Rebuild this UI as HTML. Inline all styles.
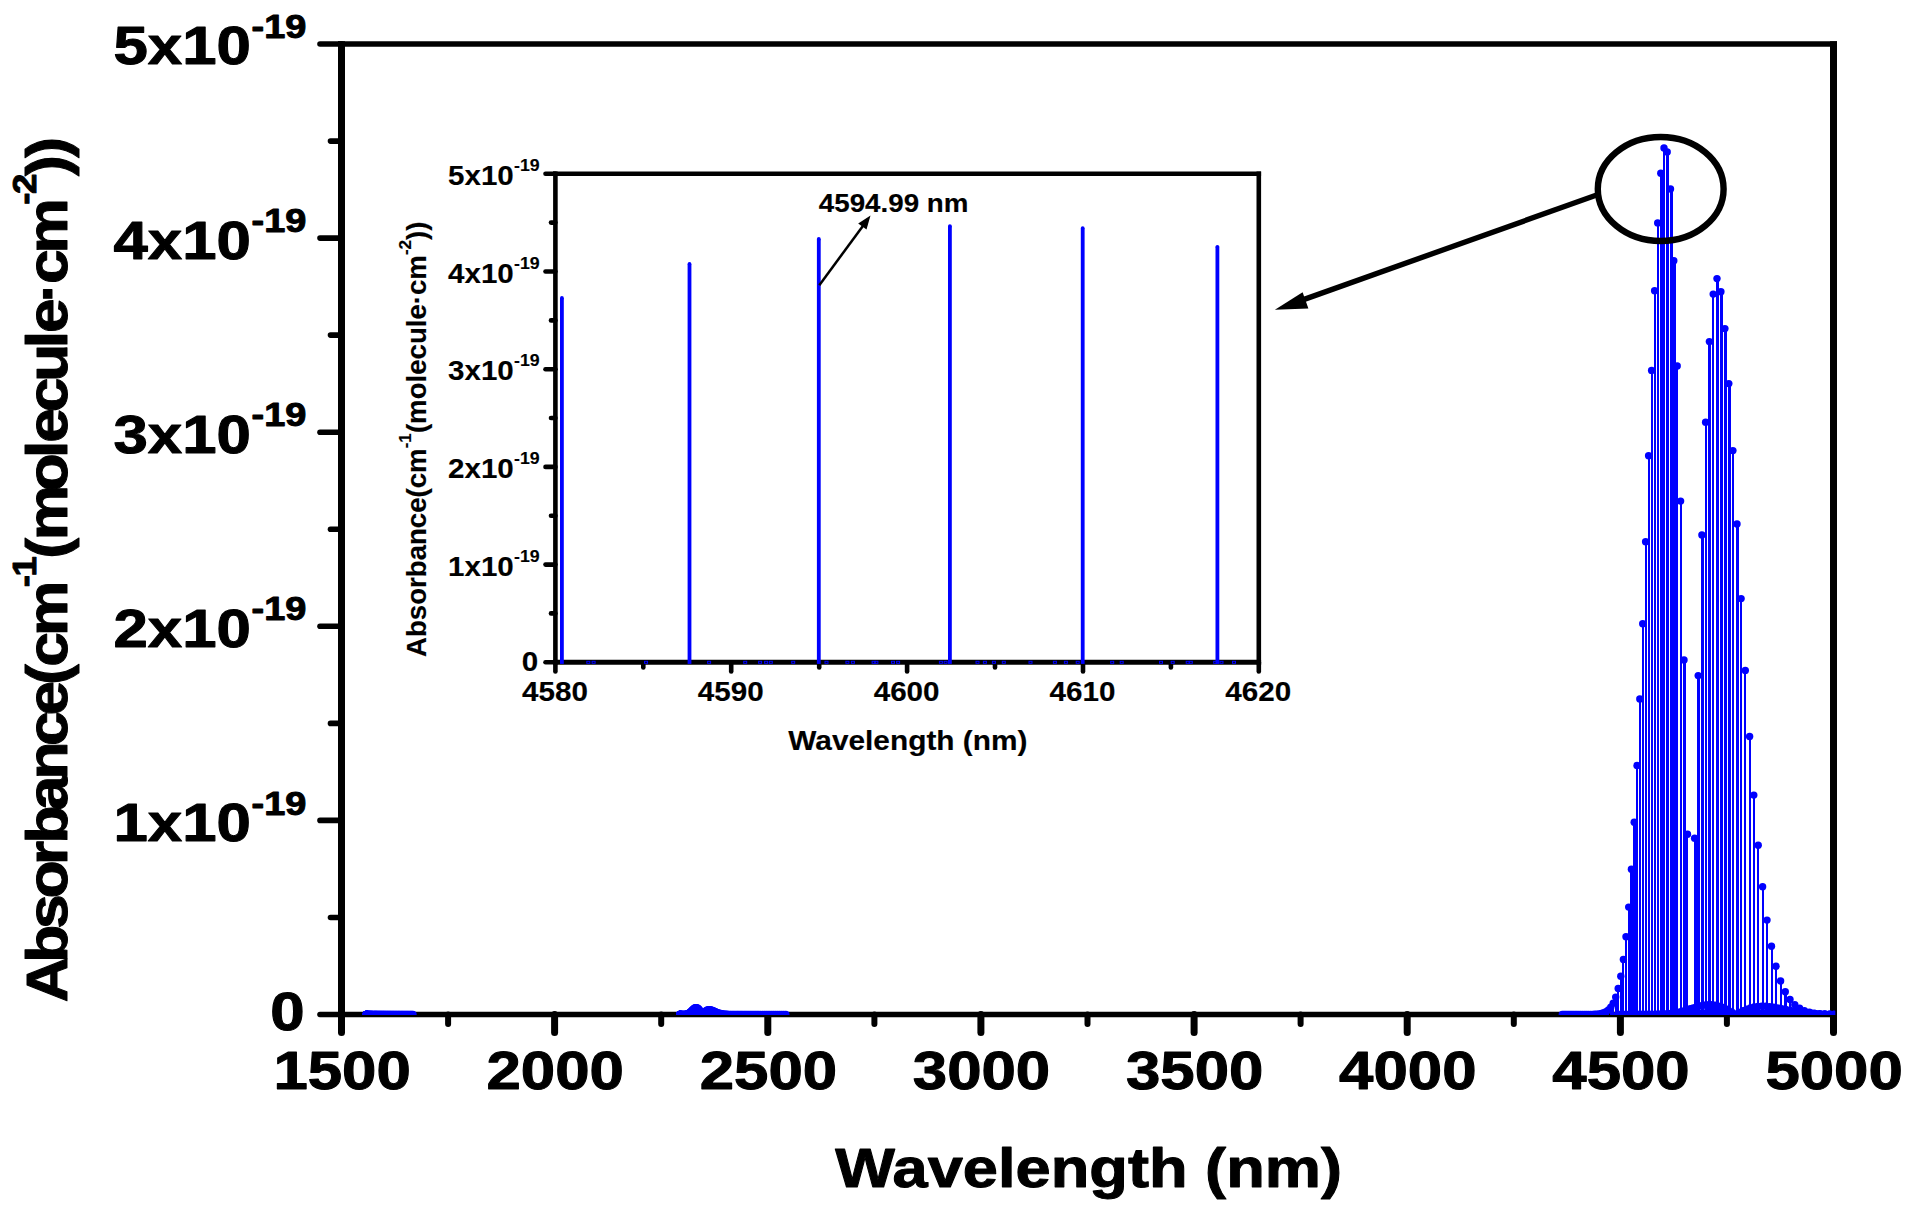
<!DOCTYPE html>
<html lang="en"><head><meta charset="utf-8"><title>CO absorbance spectrum</title>
<style>html,body{margin:0;padding:0;background:#fff}svg{display:block}text{font-family:"Liberation Sans", Arial, Helvetica, sans-serif;font-weight:bold;fill:#000}</style></head><body>
<svg width="1909" height="1210" viewBox="0 0 1909 1210">
<rect width="1909" height="1210" fill="#fff"/>
<g stroke="#000" fill="none" stroke-linecap="butt">
<line x1="341.5" y1="41.2" x2="341.5" y2="1017.3" stroke-width="7.0"/>
<line x1="1833.5" y1="41.2" x2="1833.5" y2="1017.3" stroke-width="7.0"/>
<line x1="338.0" y1="44.0" x2="1837.0" y2="44.0" stroke-width="5.6"/>
<line x1="338.0" y1="1014.5" x2="1837.0" y2="1014.5" stroke-width="5.6"/>
</g>
<g stroke="#000" fill="none" stroke-linecap="round">
<line x1="341.5" y1="1014.5" x2="320.0" y2="1014.5" stroke-width="5.6"/>
<line x1="341.5" y1="917.5" x2="330.5" y2="917.5" stroke-width="5.6"/>
<line x1="341.5" y1="820.4" x2="320.0" y2="820.4" stroke-width="5.6"/>
<line x1="341.5" y1="723.4" x2="330.5" y2="723.4" stroke-width="5.6"/>
<line x1="341.5" y1="626.3" x2="320.0" y2="626.3" stroke-width="5.6"/>
<line x1="341.5" y1="529.2" x2="330.5" y2="529.2" stroke-width="5.6"/>
<line x1="341.5" y1="432.2" x2="320.0" y2="432.2" stroke-width="5.6"/>
<line x1="341.5" y1="335.1" x2="330.5" y2="335.1" stroke-width="5.6"/>
<line x1="341.5" y1="238.1" x2="320.0" y2="238.1" stroke-width="5.6"/>
<line x1="341.5" y1="141.1" x2="330.5" y2="141.1" stroke-width="5.6"/>
<line x1="341.5" y1="44.0" x2="320.0" y2="44.0" stroke-width="5.6"/>
<line x1="341.5" y1="1014.5" x2="341.5" y2="1032.5" stroke-width="7.0"/>
<line x1="448.1" y1="1014.5" x2="448.1" y2="1024.0" stroke-width="6.0"/>
<line x1="554.6" y1="1014.5" x2="554.6" y2="1032.5" stroke-width="7.0"/>
<line x1="661.2" y1="1014.5" x2="661.2" y2="1024.0" stroke-width="6.0"/>
<line x1="767.8" y1="1014.5" x2="767.8" y2="1032.5" stroke-width="7.0"/>
<line x1="874.4" y1="1014.5" x2="874.4" y2="1024.0" stroke-width="6.0"/>
<line x1="980.9" y1="1014.5" x2="980.9" y2="1032.5" stroke-width="7.0"/>
<line x1="1087.5" y1="1014.5" x2="1087.5" y2="1024.0" stroke-width="6.0"/>
<line x1="1194.1" y1="1014.5" x2="1194.1" y2="1032.5" stroke-width="7.0"/>
<line x1="1300.6" y1="1014.5" x2="1300.6" y2="1024.0" stroke-width="6.0"/>
<line x1="1407.2" y1="1014.5" x2="1407.2" y2="1032.5" stroke-width="7.0"/>
<line x1="1513.8" y1="1014.5" x2="1513.8" y2="1024.0" stroke-width="6.0"/>
<line x1="1620.4" y1="1014.5" x2="1620.4" y2="1032.5" stroke-width="7.0"/>
<line x1="1726.9" y1="1014.5" x2="1726.9" y2="1024.0" stroke-width="6.0"/>
<line x1="1833.5" y1="1014.5" x2="1833.5" y2="1032.5" stroke-width="7.0"/>
</g>
<defs><clipPath id="mc"><rect x="338" y="40" width="1497.2" height="974.9"/></clipPath><clipPath id="ic"><rect x="553" y="171" width="708" height="493.6"/></clipPath></defs>
<g clip-path="url(#mc)" fill="#0000ff" shape-rendering="crispEdges">
<rect x="686" y="1014.0" width="2" height="0.5"/>
<rect x="687" y="1013.8" width="3" height="0.7"/>
<rect x="687" y="1013.5" width="2" height="1.0"/>
<rect x="688" y="1013.2" width="2" height="1.3"/>
<rect x="688" y="1012.8" width="3" height="1.7"/>
<rect x="689" y="1012.3" width="2" height="2.2"/>
<rect x="690" y="1011.7" width="2" height="2.8"/>
<rect x="690" y="1011.1" width="3" height="3.4"/>
<rect x="691" y="1010.5" width="2" height="4.0"/>
<rect x="692" y="1009.8" width="2" height="4.7"/>
<rect x="692" y="1009.1" width="2" height="5.4"/>
<rect x="693" y="1008.5" width="3" height="6.0"/>
<rect x="694" y="1008.0" width="2" height="6.5"/>
<rect x="694" y="1007.7" width="2" height="6.8"/>
<rect x="695" y="1007.6" width="3" height="6.9"/>
<rect x="696" y="1007.7" width="2" height="6.8"/>
<rect x="697" y="1008.1" width="2" height="6.4"/>
<rect x="697" y="1008.7" width="3" height="5.8"/>
<rect x="698" y="1009.6" width="2" height="4.9"/>
<rect x="699" y="1010.7" width="2" height="3.8"/>
<rect x="700" y="1011.9" width="2" height="2.6"/>
<rect x="701" y="1013.2" width="3" height="1.3"/>
<rect x="703" y="1013.2" width="2" height="1.3"/>
<rect x="704" y="1012.1" width="2" height="2.4"/>
<rect x="704" y="1011.2" width="3" height="3.3"/>
<rect x="705" y="1010.5" width="2" height="4.0"/>
<rect x="706" y="1010.0" width="2" height="4.5"/>
<rect x="707" y="1009.7" width="3" height="4.8"/>
<rect x="708" y="1009.7" width="2" height="4.8"/>
<rect x="709" y="1009.8" width="2" height="4.7"/>
<rect x="711" y="1010.1" width="2" height="4.4"/>
<rect x="712" y="1010.5" width="3" height="4.0"/>
<rect x="713" y="1011.0" width="2" height="3.5"/>
<rect x="714" y="1011.5" width="2" height="3.0"/>
<rect x="715" y="1012.0" width="3" height="2.5"/>
<rect x="716" y="1012.5" width="2" height="2.0"/>
<rect x="717" y="1012.9" width="2" height="1.6"/>
<rect x="718" y="1013.2" width="3" height="1.3"/>
<rect x="720" y="1013.5" width="2" height="1.0"/>
<rect x="721" y="1013.8" width="2" height="0.7"/>
<rect x="722" y="1014.0" width="2" height="0.5"/>
<rect x="1598" y="1013.9" width="2" height="0.6"/>
<rect x="1600" y="1013.5" width="2" height="1.0"/>
<rect x="1603" y="1012.8" width="3" height="1.7"/>
<rect x="1605" y="1011.7" width="2" height="2.8"/>
<rect x="1607" y="1009.9" width="2" height="4.6"/>
<rect x="1610" y="1007.2" width="3" height="7.3"/>
<rect x="1612" y="1003.2" width="2" height="11.3"/>
<rect x="1615" y="997.1" width="2" height="17.4"/>
<rect x="1617" y="988.5" width="2" height="26.0"/>
<rect x="1620" y="976.2" width="2" height="38.3"/>
<rect x="1622" y="959.4" width="2" height="55.1"/>
<rect x="1625" y="936.7" width="2" height="77.8"/>
<rect x="1628" y="907.1" width="3" height="107.4"/>
<rect x="1630" y="869.2" width="3" height="145.3"/>
<rect x="1633" y="822.2" width="3" height="192.3"/>
<rect x="1636" y="765.5" width="2" height="249.0"/>
<rect x="1639" y="699.0" width="2" height="315.5"/>
<rect x="1642" y="623.8" width="2" height="390.7"/>
<rect x="1645" y="541.7" width="2" height="472.8"/>
<rect x="1648" y="455.8" width="2" height="558.7"/>
<rect x="1651" y="370.4" width="2" height="644.1"/>
<rect x="1654" y="290.8" width="2" height="723.7"/>
<rect x="1657" y="222.9" width="2" height="791.6"/>
<rect x="1660" y="173.3" width="3" height="841.2"/>
<rect x="1663" y="147.9" width="2" height="866.6"/>
<rect x="1664" y="1014.0" width="2" height="0.5"/>
<rect x="1666" y="151.9" width="3" height="862.6"/>
<rect x="1667" y="1013.8" width="2" height="0.7"/>
<rect x="1670" y="189.0" width="3" height="825.5"/>
<rect x="1670" y="1013.5" width="2" height="1.0"/>
<rect x="1672" y="1013.1" width="2" height="1.4"/>
<rect x="1673" y="260.7" width="3" height="753.8"/>
<rect x="1675" y="1012.6" width="2" height="1.9"/>
<rect x="1676" y="366.0" width="2" height="648.5"/>
<rect x="1678" y="1012.1" width="2" height="2.4"/>
<rect x="1680" y="501.1" width="2" height="513.4"/>
<rect x="1681" y="1011.4" width="2" height="3.1"/>
<rect x="1683" y="659.9" width="3" height="354.6"/>
<rect x="1683" y="1010.6" width="2" height="3.9"/>
<rect x="1684" y="1013.9" width="2" height="0.6"/>
<rect x="1686" y="1009.8" width="3" height="4.7"/>
<rect x="1686" y="834.2" width="2" height="180.3"/>
<rect x="1687" y="1013.8" width="2" height="0.7"/>
<rect x="1689" y="1008.8" width="3" height="5.7"/>
<rect x="1690" y="1013.6" width="2" height="0.9"/>
<rect x="1692" y="1007.9" width="2" height="6.6"/>
<rect x="1693" y="1013.5" width="2" height="1.0"/>
<rect x="1694" y="838.3" width="3" height="176.2"/>
<rect x="1695" y="1007.0" width="2" height="7.5"/>
<rect x="1696" y="1013.3" width="2" height="1.2"/>
<rect x="1697" y="675.6" width="3" height="338.9"/>
<rect x="1698" y="1006.1" width="2" height="8.4"/>
<rect x="1699" y="1013.1" width="2" height="1.4"/>
<rect x="1701" y="534.9" width="3" height="479.6"/>
<rect x="1701" y="1005.4" width="2" height="9.1"/>
<rect x="1702" y="1013.0" width="2" height="1.5"/>
<rect x="1705" y="422.2" width="2" height="592.3"/>
<rect x="1705" y="1004.9" width="3" height="9.6"/>
<rect x="1705" y="1012.9" width="2" height="1.6"/>
<rect x="1708" y="1004.7" width="2" height="9.8"/>
<rect x="1708" y="341.6" width="3" height="672.9"/>
<rect x="1708" y="1012.8" width="2" height="1.7"/>
<rect x="1711" y="1004.8" width="2" height="9.7"/>
<rect x="1712" y="1012.7" width="3" height="1.8"/>
<rect x="1712" y="294.1" width="2" height="720.4"/>
<rect x="1714" y="1005.2" width="2" height="9.3"/>
<rect x="1715" y="1012.7" width="2" height="1.8"/>
<rect x="1716" y="278.6" width="3" height="735.9"/>
<rect x="1718" y="1006.1" width="2" height="8.4"/>
<rect x="1718" y="1012.8" width="2" height="1.7"/>
<rect x="1720" y="291.7" width="3" height="722.8"/>
<rect x="1721" y="1007.3" width="2" height="7.2"/>
<rect x="1721" y="1013.0" width="2" height="1.5"/>
<rect x="1724" y="328.6" width="3" height="685.9"/>
<rect x="1724" y="1008.8" width="2" height="5.7"/>
<rect x="1725" y="1013.2" width="2" height="1.3"/>
<rect x="1728" y="1010.6" width="2" height="3.9"/>
<rect x="1728" y="383.6" width="3" height="630.9"/>
<rect x="1728" y="1013.5" width="2" height="1.0"/>
<rect x="1731" y="1012.5" width="2" height="2.0"/>
<rect x="1732" y="1013.8" width="3" height="0.7"/>
<rect x="1732" y="450.6" width="2" height="563.9"/>
<rect x="1736" y="524.0" width="3" height="490.5"/>
<rect x="1738" y="1012.5" width="2" height="2.0"/>
<rect x="1740" y="598.6" width="2" height="415.9"/>
<rect x="1742" y="1010.7" width="2" height="3.8"/>
<rect x="1744" y="670.4" width="2" height="344.1"/>
<rect x="1746" y="1009.1" width="2" height="5.4"/>
<rect x="1746" y="1013.8" width="3" height="0.7"/>
<rect x="1749" y="736.5" width="2" height="278.0"/>
<rect x="1749" y="1007.9" width="2" height="6.6"/>
<rect x="1749" y="1013.5" width="3" height="1.0"/>
<rect x="1753" y="795.1" width="2" height="219.4"/>
<rect x="1753" y="1006.9" width="2" height="7.6"/>
<rect x="1753" y="1013.3" width="2" height="1.2"/>
<rect x="1757" y="1006.4" width="3" height="8.1"/>
<rect x="1757" y="1013.1" width="2" height="1.4"/>
<rect x="1757" y="845.2" width="2" height="169.3"/>
<rect x="1761" y="1013.0" width="3" height="1.5"/>
<rect x="1761" y="1006.1" width="2" height="8.4"/>
<rect x="1762" y="886.7" width="2" height="127.8"/>
<rect x="1765" y="1013.0" width="3" height="1.5"/>
<rect x="1765" y="1006.2" width="2" height="8.3"/>
<rect x="1766" y="920.1" width="2" height="94.4"/>
<rect x="1768" y="1013.0" width="2" height="1.5"/>
<rect x="1769" y="1006.6" width="3" height="7.9"/>
<rect x="1771" y="946.3" width="2" height="68.2"/>
<rect x="1772" y="1013.1" width="2" height="1.4"/>
<rect x="1773" y="1007.2" width="3" height="7.3"/>
<rect x="1775" y="966.2" width="2" height="48.3"/>
<rect x="1776" y="1013.2" width="2" height="1.3"/>
<rect x="1777" y="1007.9" width="3" height="6.6"/>
<rect x="1780" y="981.0" width="2" height="33.5"/>
<rect x="1780" y="1013.3" width="2" height="1.2"/>
<rect x="1781" y="1008.7" width="2" height="5.8"/>
<rect x="1784" y="991.8" width="3" height="22.7"/>
<rect x="1785" y="1013.4" width="2" height="1.1"/>
<rect x="1785" y="1009.5" width="2" height="5.0"/>
<rect x="1789" y="1013.6" width="3" height="0.9"/>
<rect x="1789" y="1010.3" width="2" height="4.2"/>
<rect x="1789" y="999.4" width="2" height="15.1"/>
<rect x="1793" y="1013.7" width="3" height="0.8"/>
<rect x="1793" y="1011.1" width="2" height="3.4"/>
<rect x="1794" y="1004.7" width="2" height="9.8"/>
<rect x="1797" y="1013.9" width="2" height="0.6"/>
<rect x="1797" y="1011.8" width="3" height="2.7"/>
<rect x="1799" y="1008.2" width="2" height="6.3"/>
<rect x="1802" y="1012.4" width="3" height="2.1"/>
<rect x="1803" y="1010.6" width="2" height="3.9"/>
<rect x="1806" y="1012.9" width="3" height="1.6"/>
<rect x="1808" y="1012.1" width="2" height="2.4"/>
<rect x="1811" y="1013.3" width="2" height="1.2"/>
<rect x="1813" y="1013.1" width="3" height="1.4"/>
<rect x="1815" y="1013.6" width="2" height="0.9"/>
<rect x="1818" y="1013.6" width="3" height="0.9"/>
<rect x="1820" y="1013.9" width="2" height="0.6"/>
</g>
<g clip-path="url(#mc)" fill="#0000ff">
<circle cx="366.3" cy="1014.5" r="3.7"/>
<circle cx="366.3" cy="1014.5" r="3.7"/>
<circle cx="366.3" cy="1014.5" r="3.7"/>
<circle cx="366.3" cy="1014.5" r="3.7"/>
<circle cx="366.3" cy="1014.5" r="3.7"/>
<circle cx="366.3" cy="1014.5" r="3.7"/>
<circle cx="366.4" cy="1014.5" r="3.7"/>
<circle cx="366.4" cy="1014.5" r="3.7"/>
<circle cx="366.4" cy="1014.5" r="3.7"/>
<circle cx="366.4" cy="1014.5" r="3.7"/>
<circle cx="366.5" cy="1014.5" r="3.7"/>
<circle cx="366.5" cy="1014.5" r="3.7"/>
<circle cx="366.5" cy="1014.5" r="3.7"/>
<circle cx="366.6" cy="1014.5" r="3.7"/>
<circle cx="366.6" cy="1014.5" r="3.7"/>
<circle cx="366.6" cy="1014.5" r="3.7"/>
<circle cx="366.7" cy="1014.5" r="3.7"/>
<circle cx="366.7" cy="1014.5" r="3.7"/>
<circle cx="366.8" cy="1014.5" r="3.7"/>
<circle cx="366.8" cy="1014.5" r="3.7"/>
<circle cx="366.9" cy="1014.5" r="3.7"/>
<circle cx="367.0" cy="1014.5" r="3.7"/>
<circle cx="367.1" cy="1014.5" r="3.7"/>
<circle cx="367.3" cy="1014.5" r="3.7"/>
<circle cx="367.4" cy="1014.5" r="3.7"/>
<circle cx="367.6" cy="1014.5" r="3.7"/>
<circle cx="367.8" cy="1014.5" r="3.7"/>
<circle cx="368.0" cy="1014.5" r="3.7"/>
<circle cx="368.2" cy="1014.5" r="3.7"/>
<circle cx="368.4" cy="1014.5" r="3.7"/>
<circle cx="368.6" cy="1014.5" r="3.7"/>
<circle cx="368.9" cy="1014.5" r="3.7"/>
<circle cx="369.1" cy="1014.5" r="3.7"/>
<circle cx="369.4" cy="1014.5" r="3.7"/>
<circle cx="369.6" cy="1014.5" r="3.7"/>
<circle cx="369.9" cy="1014.5" r="3.7"/>
<circle cx="370.2" cy="1014.5" r="3.7"/>
<circle cx="370.5" cy="1014.5" r="3.7"/>
<circle cx="370.8" cy="1014.5" r="3.7"/>
<circle cx="371.1" cy="1014.5" r="3.7"/>
<circle cx="371.5" cy="1014.5" r="3.7"/>
<circle cx="371.8" cy="1014.5" r="3.7"/>
<circle cx="372.2" cy="1014.5" r="3.7"/>
<circle cx="372.6" cy="1014.5" r="3.7"/>
<circle cx="372.9" cy="1014.5" r="3.7"/>
<circle cx="373.7" cy="1014.5" r="3.7"/>
<circle cx="374.2" cy="1014.5" r="3.7"/>
<circle cx="374.6" cy="1014.5" r="3.7"/>
<circle cx="375.0" cy="1014.5" r="3.7"/>
<circle cx="375.5" cy="1014.5" r="3.7"/>
<circle cx="376.0" cy="1014.5" r="3.7"/>
<circle cx="376.4" cy="1014.5" r="3.7"/>
<circle cx="376.9" cy="1014.5" r="3.7"/>
<circle cx="377.4" cy="1014.5" r="3.7"/>
<circle cx="377.9" cy="1014.5" r="3.7"/>
<circle cx="378.5" cy="1014.5" r="3.7"/>
<circle cx="379.0" cy="1014.5" r="3.7"/>
<circle cx="379.5" cy="1014.5" r="3.7"/>
<circle cx="380.1" cy="1014.5" r="3.7"/>
<circle cx="380.7" cy="1014.5" r="3.7"/>
<circle cx="381.3" cy="1014.5" r="3.7"/>
<circle cx="381.9" cy="1014.5" r="3.7"/>
<circle cx="382.5" cy="1014.5" r="3.7"/>
<circle cx="383.1" cy="1014.5" r="3.7"/>
<circle cx="383.7" cy="1014.5" r="3.7"/>
<circle cx="384.4" cy="1014.5" r="3.7"/>
<circle cx="385.0" cy="1014.5" r="3.7"/>
<circle cx="385.7" cy="1014.5" r="3.7"/>
<circle cx="386.4" cy="1014.5" r="3.7"/>
<circle cx="387.1" cy="1014.5" r="3.7"/>
<circle cx="387.8" cy="1014.5" r="3.7"/>
<circle cx="388.5" cy="1014.5" r="3.7"/>
<circle cx="389.2" cy="1014.5" r="3.7"/>
<circle cx="390.0" cy="1014.5" r="3.7"/>
<circle cx="390.7" cy="1014.5" r="3.7"/>
<circle cx="391.5" cy="1014.5" r="3.7"/>
<circle cx="392.3" cy="1014.5" r="3.7"/>
<circle cx="393.1" cy="1014.5" r="3.7"/>
<circle cx="393.9" cy="1014.5" r="3.7"/>
<circle cx="394.7" cy="1014.5" r="3.7"/>
<circle cx="395.6" cy="1014.5" r="3.7"/>
<circle cx="396.4" cy="1014.5" r="3.7"/>
<circle cx="397.3" cy="1014.5" r="3.7"/>
<circle cx="398.2" cy="1014.5" r="3.7"/>
<circle cx="399.0" cy="1014.5" r="3.7"/>
<circle cx="399.9" cy="1014.5" r="3.7"/>
<circle cx="400.9" cy="1014.5" r="3.7"/>
<circle cx="401.8" cy="1014.5" r="3.7"/>
<circle cx="402.7" cy="1014.5" r="3.7"/>
<circle cx="403.7" cy="1014.5" r="3.7"/>
<circle cx="404.7" cy="1014.5" r="3.7"/>
<circle cx="405.7" cy="1014.5" r="3.7"/>
<circle cx="406.7" cy="1014.5" r="3.7"/>
<circle cx="407.7" cy="1014.5" r="3.7"/>
<circle cx="408.7" cy="1014.5" r="3.7"/>
<circle cx="409.8" cy="1014.5" r="3.7"/>
<circle cx="410.8" cy="1014.5" r="3.7"/>
<circle cx="411.9" cy="1014.5" r="3.7"/>
<circle cx="413.0" cy="1014.5" r="3.7"/>
<circle cx="679.8" cy="1014.5" r="3.7"/>
<circle cx="679.8" cy="1014.5" r="3.7"/>
<circle cx="679.8" cy="1014.5" r="3.7"/>
<circle cx="679.8" cy="1014.5" r="3.7"/>
<circle cx="679.8" cy="1014.5" r="3.7"/>
<circle cx="679.8" cy="1014.5" r="3.7"/>
<circle cx="679.9" cy="1014.5" r="3.7"/>
<circle cx="679.9" cy="1014.5" r="3.7"/>
<circle cx="679.9" cy="1014.5" r="3.7"/>
<circle cx="680.0" cy="1014.5" r="3.7"/>
<circle cx="680.0" cy="1014.5" r="3.7"/>
<circle cx="680.0" cy="1014.5" r="3.7"/>
<circle cx="680.1" cy="1014.5" r="3.7"/>
<circle cx="680.2" cy="1014.5" r="3.7"/>
<circle cx="680.2" cy="1014.5" r="3.7"/>
<circle cx="680.3" cy="1014.5" r="3.7"/>
<circle cx="680.4" cy="1014.5" r="3.7"/>
<circle cx="680.4" cy="1014.5" r="3.7"/>
<circle cx="680.5" cy="1014.5" r="3.7"/>
<circle cx="680.6" cy="1014.5" r="3.7"/>
<circle cx="680.7" cy="1014.5" r="3.7"/>
<circle cx="680.7" cy="1014.5" r="3.7"/>
<circle cx="680.9" cy="1014.5" r="3.7"/>
<circle cx="681.1" cy="1014.5" r="3.7"/>
<circle cx="681.4" cy="1014.5" r="3.7"/>
<circle cx="681.6" cy="1014.5" r="3.7"/>
<circle cx="681.9" cy="1014.5" r="3.7"/>
<circle cx="682.2" cy="1014.5" r="3.7"/>
<circle cx="682.5" cy="1014.5" r="3.7"/>
<circle cx="682.8" cy="1014.5" r="3.7"/>
<circle cx="683.1" cy="1014.5" r="3.7"/>
<circle cx="683.4" cy="1014.5" r="3.7"/>
<circle cx="683.8" cy="1014.5" r="3.7"/>
<circle cx="684.2" cy="1014.5" r="3.7"/>
<circle cx="684.6" cy="1014.5" r="3.7"/>
<circle cx="685.0" cy="1014.4" r="3.7"/>
<circle cx="685.4" cy="1014.4" r="3.7"/>
<circle cx="685.9" cy="1014.3" r="3.7"/>
<circle cx="686.3" cy="1014.3" r="3.7"/>
<circle cx="686.8" cy="1014.1" r="3.7"/>
<circle cx="687.3" cy="1014.0" r="3.7"/>
<circle cx="687.8" cy="1013.8" r="3.7"/>
<circle cx="688.4" cy="1013.5" r="3.7"/>
<circle cx="688.9" cy="1013.2" r="3.7"/>
<circle cx="689.5" cy="1012.8" r="3.7"/>
<circle cx="690.1" cy="1012.3" r="3.7"/>
<circle cx="690.7" cy="1011.7" r="3.7"/>
<circle cx="691.3" cy="1011.1" r="3.7"/>
<circle cx="691.9" cy="1010.5" r="3.7"/>
<circle cx="692.6" cy="1009.8" r="3.7"/>
<circle cx="693.3" cy="1009.1" r="3.7"/>
<circle cx="694.0" cy="1008.5" r="3.7"/>
<circle cx="694.7" cy="1008.0" r="3.7"/>
<circle cx="695.4" cy="1007.7" r="3.7"/>
<circle cx="696.1" cy="1007.6" r="3.7"/>
<circle cx="696.9" cy="1007.7" r="3.7"/>
<circle cx="697.7" cy="1008.1" r="3.7"/>
<circle cx="698.5" cy="1008.7" r="3.7"/>
<circle cx="699.3" cy="1009.6" r="3.7"/>
<circle cx="700.1" cy="1010.7" r="3.7"/>
<circle cx="701.0" cy="1011.9" r="3.7"/>
<circle cx="701.8" cy="1013.2" r="3.7"/>
<circle cx="703.6" cy="1013.2" r="3.7"/>
<circle cx="704.6" cy="1012.1" r="3.7"/>
<circle cx="705.5" cy="1011.2" r="3.7"/>
<circle cx="706.5" cy="1010.5" r="3.7"/>
<circle cx="707.4" cy="1010.0" r="3.7"/>
<circle cx="708.4" cy="1009.7" r="3.7"/>
<circle cx="709.4" cy="1009.7" r="3.7"/>
<circle cx="710.5" cy="1009.8" r="3.7"/>
<circle cx="711.5" cy="1010.1" r="3.7"/>
<circle cx="712.6" cy="1010.5" r="3.7"/>
<circle cx="713.7" cy="1011.0" r="3.7"/>
<circle cx="714.8" cy="1011.5" r="3.7"/>
<circle cx="715.9" cy="1012.0" r="3.7"/>
<circle cx="717.1" cy="1012.5" r="3.7"/>
<circle cx="718.2" cy="1012.9" r="3.7"/>
<circle cx="719.4" cy="1013.2" r="3.7"/>
<circle cx="720.6" cy="1013.5" r="3.7"/>
<circle cx="721.8" cy="1013.8" r="3.7"/>
<circle cx="723.1" cy="1014.0" r="3.7"/>
<circle cx="724.3" cy="1014.1" r="3.7"/>
<circle cx="725.6" cy="1014.2" r="3.7"/>
<circle cx="726.9" cy="1014.3" r="3.7"/>
<circle cx="728.2" cy="1014.4" r="3.7"/>
<circle cx="729.6" cy="1014.4" r="3.7"/>
<circle cx="730.9" cy="1014.5" r="3.7"/>
<circle cx="732.3" cy="1014.5" r="3.7"/>
<circle cx="733.7" cy="1014.5" r="3.7"/>
<circle cx="735.1" cy="1014.5" r="3.7"/>
<circle cx="736.6" cy="1014.5" r="3.7"/>
<circle cx="738.0" cy="1014.5" r="3.7"/>
<circle cx="739.5" cy="1014.5" r="3.7"/>
<circle cx="741.0" cy="1014.5" r="3.7"/>
<circle cx="742.5" cy="1014.5" r="3.7"/>
<circle cx="744.1" cy="1014.5" r="3.7"/>
<circle cx="745.6" cy="1014.5" r="3.7"/>
<circle cx="747.2" cy="1014.5" r="3.7"/>
<circle cx="748.8" cy="1014.5" r="3.7"/>
<circle cx="750.5" cy="1014.5" r="3.7"/>
<circle cx="752.1" cy="1014.5" r="3.7"/>
<circle cx="753.8" cy="1014.5" r="3.7"/>
<circle cx="755.5" cy="1014.5" r="3.7"/>
<circle cx="757.2" cy="1014.5" r="3.7"/>
<circle cx="758.9" cy="1014.5" r="3.7"/>
<circle cx="760.7" cy="1014.5" r="3.7"/>
<circle cx="762.5" cy="1014.5" r="3.7"/>
<circle cx="764.3" cy="1014.5" r="3.7"/>
<circle cx="766.1" cy="1014.5" r="3.7"/>
<circle cx="768.0" cy="1014.5" r="3.7"/>
<circle cx="769.9" cy="1014.5" r="3.7"/>
<circle cx="771.8" cy="1014.5" r="3.7"/>
<circle cx="773.7" cy="1014.5" r="3.7"/>
<circle cx="775.6" cy="1014.5" r="3.7"/>
<circle cx="777.6" cy="1014.5" r="3.7"/>
<circle cx="779.6" cy="1014.5" r="3.7"/>
<circle cx="781.6" cy="1014.5" r="3.7"/>
<circle cx="783.7" cy="1014.5" r="3.7"/>
<circle cx="785.8" cy="1014.5" r="3.7"/>
<circle cx="1562.3" cy="1014.5" r="3.7"/>
<circle cx="1563.8" cy="1014.5" r="3.7"/>
<circle cx="1565.3" cy="1014.5" r="3.7"/>
<circle cx="1566.9" cy="1014.5" r="3.7"/>
<circle cx="1568.5" cy="1014.5" r="3.7"/>
<circle cx="1570.1" cy="1014.5" r="3.7"/>
<circle cx="1571.8" cy="1014.5" r="3.7"/>
<circle cx="1573.5" cy="1014.5" r="3.7"/>
<circle cx="1575.3" cy="1014.5" r="3.7"/>
<circle cx="1577.0" cy="1014.5" r="3.7"/>
<circle cx="1578.9" cy="1014.5" r="3.7"/>
<circle cx="1580.7" cy="1014.5" r="3.7"/>
<circle cx="1582.6" cy="1014.5" r="3.7"/>
<circle cx="1584.6" cy="1014.5" r="3.7"/>
<circle cx="1586.5" cy="1014.5" r="3.7"/>
<circle cx="1588.5" cy="1014.5" r="3.7"/>
<circle cx="1590.6" cy="1014.4" r="3.7"/>
<circle cx="1592.7" cy="1014.4" r="3.7"/>
<circle cx="1594.8" cy="1014.3" r="3.7"/>
<circle cx="1597.0" cy="1014.2" r="3.7"/>
<circle cx="1599.2" cy="1013.9" r="3.7"/>
<circle cx="1601.4" cy="1013.5" r="3.7"/>
<circle cx="1603.7" cy="1012.8" r="3.7"/>
<circle cx="1606.0" cy="1011.7" r="3.7"/>
<circle cx="1608.4" cy="1009.9" r="3.7"/>
<circle cx="1610.8" cy="1007.2" r="3.7"/>
<circle cx="1613.2" cy="1003.2" r="3.7"/>
<circle cx="1615.7" cy="997.1" r="3.7"/>
<circle cx="1617.5" cy="1014.5" r="3.7"/>
<circle cx="1618.2" cy="988.5" r="3.7"/>
<circle cx="1619.2" cy="1014.5" r="3.7"/>
<circle cx="1620.8" cy="976.2" r="3.7"/>
<circle cx="1621.1" cy="1014.5" r="3.7"/>
<circle cx="1622.9" cy="1014.5" r="3.7"/>
<circle cx="1623.4" cy="959.4" r="3.7"/>
<circle cx="1624.8" cy="1014.5" r="3.7"/>
<circle cx="1626.0" cy="936.7" r="3.7"/>
<circle cx="1626.8" cy="1014.5" r="3.7"/>
<circle cx="1628.7" cy="907.1" r="3.7"/>
<circle cx="1628.7" cy="1014.5" r="3.7"/>
<circle cx="1630.5" cy="1014.5" r="3.7"/>
<circle cx="1630.7" cy="1014.5" r="3.7"/>
<circle cx="1631.4" cy="869.2" r="3.7"/>
<circle cx="1632.5" cy="1014.5" r="3.7"/>
<circle cx="1632.8" cy="1014.5" r="3.7"/>
<circle cx="1634.2" cy="822.2" r="3.7"/>
<circle cx="1634.5" cy="1014.5" r="3.7"/>
<circle cx="1634.8" cy="1014.5" r="3.7"/>
<circle cx="1636.5" cy="1014.5" r="3.7"/>
<circle cx="1637.0" cy="765.5" r="3.7"/>
<circle cx="1637.0" cy="1014.5" r="3.7"/>
<circle cx="1638.6" cy="1014.5" r="3.7"/>
<circle cx="1639.1" cy="1014.5" r="3.7"/>
<circle cx="1639.8" cy="699.0" r="3.7"/>
<circle cx="1640.7" cy="1014.5" r="3.7"/>
<circle cx="1641.3" cy="1014.5" r="3.7"/>
<circle cx="1642.7" cy="623.8" r="3.7"/>
<circle cx="1642.9" cy="1014.5" r="3.7"/>
<circle cx="1643.5" cy="1014.5" r="3.7"/>
<circle cx="1645.1" cy="1014.5" r="3.7"/>
<circle cx="1645.6" cy="541.7" r="3.7"/>
<circle cx="1645.8" cy="1014.5" r="3.7"/>
<circle cx="1647.3" cy="1014.5" r="3.7"/>
<circle cx="1648.1" cy="1014.5" r="3.7"/>
<circle cx="1648.6" cy="455.8" r="3.7"/>
<circle cx="1649.6" cy="1014.5" r="3.7"/>
<circle cx="1650.5" cy="1014.5" r="3.7"/>
<circle cx="1651.6" cy="370.4" r="3.7"/>
<circle cx="1651.9" cy="1014.5" r="3.7"/>
<circle cx="1652.8" cy="1014.4" r="3.7"/>
<circle cx="1654.3" cy="1014.5" r="3.7"/>
<circle cx="1654.6" cy="290.8" r="3.7"/>
<circle cx="1655.3" cy="1014.4" r="3.7"/>
<circle cx="1656.6" cy="1014.5" r="3.7"/>
<circle cx="1657.7" cy="222.9" r="3.7"/>
<circle cx="1657.7" cy="1014.3" r="3.7"/>
<circle cx="1659.1" cy="1014.5" r="3.7"/>
<circle cx="1660.2" cy="1014.3" r="3.7"/>
<circle cx="1660.8" cy="173.3" r="3.7"/>
<circle cx="1661.5" cy="1014.5" r="3.7"/>
<circle cx="1662.8" cy="1014.1" r="3.7"/>
<circle cx="1664.0" cy="147.9" r="3.7"/>
<circle cx="1664.0" cy="1014.5" r="3.7"/>
<circle cx="1665.3" cy="1014.0" r="3.7"/>
<circle cx="1666.6" cy="1014.4" r="3.7"/>
<circle cx="1667.2" cy="151.9" r="3.7"/>
<circle cx="1668.0" cy="1013.8" r="3.7"/>
<circle cx="1669.1" cy="1014.4" r="3.7"/>
<circle cx="1670.5" cy="189.0" r="3.7"/>
<circle cx="1670.6" cy="1013.5" r="3.7"/>
<circle cx="1671.8" cy="1014.4" r="3.7"/>
<circle cx="1673.3" cy="1013.1" r="3.7"/>
<circle cx="1673.8" cy="260.7" r="3.7"/>
<circle cx="1674.4" cy="1014.3" r="3.7"/>
<circle cx="1676.0" cy="1012.6" r="3.7"/>
<circle cx="1677.1" cy="1014.2" r="3.7"/>
<circle cx="1677.2" cy="366.0" r="3.7"/>
<circle cx="1678.8" cy="1012.1" r="3.7"/>
<circle cx="1679.9" cy="1014.2" r="3.7"/>
<circle cx="1680.6" cy="501.1" r="3.7"/>
<circle cx="1681.6" cy="1011.4" r="3.7"/>
<circle cx="1682.6" cy="1014.1" r="3.7"/>
<circle cx="1684.0" cy="659.9" r="3.7"/>
<circle cx="1684.5" cy="1010.6" r="3.7"/>
<circle cx="1685.4" cy="1013.9" r="3.7"/>
<circle cx="1687.4" cy="1009.8" r="3.7"/>
<circle cx="1687.5" cy="834.2" r="3.7"/>
<circle cx="1688.3" cy="1013.8" r="3.7"/>
<circle cx="1690.3" cy="1008.8" r="3.7"/>
<circle cx="1691.2" cy="1013.6" r="3.7"/>
<circle cx="1693.3" cy="1007.9" r="3.7"/>
<circle cx="1694.1" cy="1013.5" r="3.7"/>
<circle cx="1694.6" cy="838.3" r="3.7"/>
<circle cx="1696.3" cy="1007.0" r="3.7"/>
<circle cx="1697.1" cy="1013.3" r="3.7"/>
<circle cx="1698.2" cy="675.6" r="3.7"/>
<circle cx="1699.4" cy="1006.1" r="3.7"/>
<circle cx="1700.1" cy="1013.1" r="3.7"/>
<circle cx="1701.9" cy="534.9" r="3.7"/>
<circle cx="1702.5" cy="1005.4" r="3.7"/>
<circle cx="1703.2" cy="1013.0" r="3.7"/>
<circle cx="1705.6" cy="422.2" r="3.7"/>
<circle cx="1705.6" cy="1004.9" r="3.7"/>
<circle cx="1706.3" cy="1012.9" r="3.7"/>
<circle cx="1708.8" cy="1004.7" r="3.7"/>
<circle cx="1709.4" cy="341.6" r="3.7"/>
<circle cx="1709.4" cy="1012.8" r="3.7"/>
<circle cx="1712.0" cy="1004.8" r="3.7"/>
<circle cx="1712.6" cy="1012.7" r="3.7"/>
<circle cx="1713.2" cy="294.1" r="3.7"/>
<circle cx="1715.3" cy="1005.2" r="3.7"/>
<circle cx="1715.9" cy="1012.7" r="3.7"/>
<circle cx="1717.0" cy="278.6" r="3.7"/>
<circle cx="1718.6" cy="1006.1" r="3.7"/>
<circle cx="1719.1" cy="1012.8" r="3.7"/>
<circle cx="1720.9" cy="291.7" r="3.7"/>
<circle cx="1722.0" cy="1007.3" r="3.7"/>
<circle cx="1722.4" cy="1013.0" r="3.7"/>
<circle cx="1724.9" cy="328.6" r="3.7"/>
<circle cx="1725.4" cy="1008.8" r="3.7"/>
<circle cx="1725.8" cy="1013.2" r="3.7"/>
<circle cx="1728.8" cy="1010.6" r="3.7"/>
<circle cx="1728.8" cy="383.6" r="3.7"/>
<circle cx="1729.2" cy="1013.5" r="3.7"/>
<circle cx="1732.3" cy="1012.5" r="3.7"/>
<circle cx="1732.6" cy="1013.8" r="3.7"/>
<circle cx="1732.9" cy="450.6" r="3.7"/>
<circle cx="1736.1" cy="1014.1" r="3.7"/>
<circle cx="1737.0" cy="524.0" r="3.7"/>
<circle cx="1739.4" cy="1012.5" r="3.7"/>
<circle cx="1741.1" cy="598.6" r="3.7"/>
<circle cx="1743.0" cy="1010.7" r="3.7"/>
<circle cx="1743.2" cy="1014.1" r="3.7"/>
<circle cx="1745.3" cy="670.4" r="3.7"/>
<circle cx="1746.7" cy="1009.1" r="3.7"/>
<circle cx="1746.8" cy="1013.8" r="3.7"/>
<circle cx="1749.6" cy="736.5" r="3.7"/>
<circle cx="1750.4" cy="1007.9" r="3.7"/>
<circle cx="1750.5" cy="1013.5" r="3.7"/>
<circle cx="1753.8" cy="795.1" r="3.7"/>
<circle cx="1754.1" cy="1006.9" r="3.7"/>
<circle cx="1754.2" cy="1013.3" r="3.7"/>
<circle cx="1757.9" cy="1006.4" r="3.7"/>
<circle cx="1758.0" cy="1013.1" r="3.7"/>
<circle cx="1758.2" cy="845.2" r="3.7"/>
<circle cx="1761.8" cy="1013.0" r="3.7"/>
<circle cx="1761.8" cy="1006.1" r="3.7"/>
<circle cx="1762.6" cy="886.7" r="3.7"/>
<circle cx="1765.6" cy="1013.0" r="3.7"/>
<circle cx="1765.7" cy="1006.2" r="3.7"/>
<circle cx="1767.0" cy="920.1" r="3.7"/>
<circle cx="1769.5" cy="1013.0" r="3.7"/>
<circle cx="1769.6" cy="1006.6" r="3.7"/>
<circle cx="1771.5" cy="946.3" r="3.7"/>
<circle cx="1773.4" cy="1013.1" r="3.7"/>
<circle cx="1773.6" cy="1007.2" r="3.7"/>
<circle cx="1776.0" cy="966.2" r="3.7"/>
<circle cx="1777.4" cy="1013.2" r="3.7"/>
<circle cx="1777.6" cy="1007.9" r="3.7"/>
<circle cx="1780.6" cy="981.0" r="3.7"/>
<circle cx="1781.4" cy="1013.3" r="3.7"/>
<circle cx="1781.7" cy="1008.7" r="3.7"/>
<circle cx="1785.3" cy="991.8" r="3.7"/>
<circle cx="1785.5" cy="1013.4" r="3.7"/>
<circle cx="1785.8" cy="1009.5" r="3.7"/>
<circle cx="1789.6" cy="1013.6" r="3.7"/>
<circle cx="1790.0" cy="1010.3" r="3.7"/>
<circle cx="1790.0" cy="999.4" r="3.7"/>
<circle cx="1793.8" cy="1013.7" r="3.7"/>
<circle cx="1794.2" cy="1011.1" r="3.7"/>
<circle cx="1794.8" cy="1004.7" r="3.7"/>
<circle cx="1798.0" cy="1013.9" r="3.7"/>
<circle cx="1798.5" cy="1011.8" r="3.7"/>
<circle cx="1799.6" cy="1008.2" r="3.7"/>
<circle cx="1802.3" cy="1014.0" r="3.7"/>
<circle cx="1802.8" cy="1012.4" r="3.7"/>
<circle cx="1804.4" cy="1010.6" r="3.7"/>
<circle cx="1806.6" cy="1014.1" r="3.7"/>
<circle cx="1807.2" cy="1012.9" r="3.7"/>
<circle cx="1809.4" cy="1012.1" r="3.7"/>
<circle cx="1811.0" cy="1014.2" r="3.7"/>
<circle cx="1811.6" cy="1013.3" r="3.7"/>
<circle cx="1814.3" cy="1013.1" r="3.7"/>
<circle cx="1815.4" cy="1014.3" r="3.7"/>
<circle cx="1816.0" cy="1013.6" r="3.7"/>
<circle cx="1819.4" cy="1013.6" r="3.7"/>
<circle cx="1819.9" cy="1014.3" r="3.7"/>
<circle cx="1820.6" cy="1013.9" r="3.7"/>
<circle cx="1824.4" cy="1014.4" r="3.7"/>
<circle cx="1824.4" cy="1014.0" r="3.7"/>
<circle cx="1825.1" cy="1014.0" r="3.7"/>
<circle cx="1828.9" cy="1014.4" r="3.7"/>
<circle cx="1829.6" cy="1014.2" r="3.7"/>
<circle cx="1829.8" cy="1014.2" r="3.7"/>
<circle cx="1833.6" cy="1014.4" r="3.7"/>
<circle cx="1834.4" cy="1014.3" r="3.7"/>
</g>
<g stroke="#000" stroke-width="1" stroke-linejoin="round">
<text transform="translate(113.5,840.8) scale(1.148,1)" font-size="53.8">1x10<tspan font-size="33.0" dy="-26.3" dx="0.6">-19</tspan></text>
<text transform="translate(113.5,646.7) scale(1.148,1)" font-size="53.8">2x10<tspan font-size="33.0" dy="-26.3" dx="0.6">-19</tspan></text>
<text transform="translate(113.5,452.6) scale(1.148,1)" font-size="53.8">3x10<tspan font-size="33.0" dy="-26.3" dx="0.6">-19</tspan></text>
<text transform="translate(113.5,258.5) scale(1.148,1)" font-size="53.8">4x10<tspan font-size="33.0" dy="-26.3" dx="0.6">-19</tspan></text>
<text transform="translate(113.5,64.4) scale(1.148,1)" font-size="53.8">5x10<tspan font-size="33.0" dy="-26.3" dx="0.6">-19</tspan></text>
<text transform="translate(270.3,1029.6) scale(1.148,1)" font-size="53.8">0</text>
<text transform="translate(342.1,1088.8) scale(1.148,1)" font-size="53.8" text-anchor="middle">1500</text>
<text transform="translate(555.2,1088.8) scale(1.148,1)" font-size="53.8" text-anchor="middle">2000</text>
<text transform="translate(768.4,1088.8) scale(1.148,1)" font-size="53.8" text-anchor="middle">2500</text>
<text transform="translate(981.5,1088.8) scale(1.148,1)" font-size="53.8" text-anchor="middle">3000</text>
<text transform="translate(1194.7,1088.8) scale(1.148,1)" font-size="53.8" text-anchor="middle">3500</text>
<text transform="translate(1407.8,1088.8) scale(1.148,1)" font-size="53.8" text-anchor="middle">4000</text>
<text transform="translate(1621.0,1088.8) scale(1.148,1)" font-size="53.8" text-anchor="middle">4500</text>
<text transform="translate(1834.1,1088.8) scale(1.148,1)" font-size="53.8" text-anchor="middle">5000</text>
<text transform="translate(835.2,1187) scale(1.125,1)" font-size="56.2">Wavelength (nm)</text>
<text transform="translate(67.2,1002.3) rotate(-90) scale(1.09,1)" font-size="57.2" x="0.0 36.4 67.2 95.2 125.9 145.6 176.3 204.3 235.1 263.1 291.2 307.9 336.0 407.0 423.8 468.6 499.3 513.3 541.3 569.4 600.1 614.1 642.1 658.9 686.9 758.0 774.8">Absorbance(cm(molecule·cm))</text>
<text transform="translate(67.2,1002.3) rotate(-90) scale(1.09,1)" font-size="33.5" y="-31.5" x="380.7 390.6">-1</text>
<text transform="translate(67.2,1002.3) rotate(-90) scale(1.09,1)" font-size="33.5" y="-31.5" x="731.7 741.6">-2</text>
</g>
<rect x="555.4" y="173.8" width="703.4" height="488.49999999999994" fill="#fff"/>
<g stroke="#000" fill="none" stroke-linecap="butt">
<line x1="555.4" y1="171.5" x2="555.4" y2="664.5999999999999" stroke-width="4.6"/>
<line x1="1258.8" y1="171.5" x2="1258.8" y2="664.5999999999999" stroke-width="4.6"/>
<line x1="553.1" y1="173.8" x2="1261.1" y2="173.8" stroke-width="4.6"/>
<line x1="553.1" y1="662.3" x2="1261.1" y2="662.3" stroke-width="5.0"/>
</g>
<g stroke="#000" fill="none" stroke-linecap="round">
<line x1="555.4" y1="662.3" x2="545.5" y2="662.3" stroke-width="4.6"/>
<line x1="555.4" y1="613.4" x2="551.0" y2="613.4" stroke-width="4.6"/>
<line x1="555.4" y1="564.6" x2="545.5" y2="564.6" stroke-width="4.6"/>
<line x1="555.4" y1="515.8" x2="551.0" y2="515.8" stroke-width="4.6"/>
<line x1="555.4" y1="466.9" x2="545.5" y2="466.9" stroke-width="4.6"/>
<line x1="555.4" y1="418.0" x2="551.0" y2="418.0" stroke-width="4.6"/>
<line x1="555.4" y1="369.2" x2="545.5" y2="369.2" stroke-width="4.6"/>
<line x1="555.4" y1="320.4" x2="551.0" y2="320.4" stroke-width="4.6"/>
<line x1="555.4" y1="271.5" x2="545.5" y2="271.5" stroke-width="4.6"/>
<line x1="555.4" y1="222.6" x2="551.0" y2="222.6" stroke-width="4.6"/>
<line x1="555.4" y1="173.8" x2="545.5" y2="173.8" stroke-width="4.6"/>
<line x1="555.4" y1="662.3" x2="555.4" y2="671.5" stroke-width="4.6"/>
<line x1="643.3" y1="662.3" x2="643.3" y2="667.5" stroke-width="4.6"/>
<line x1="731.2" y1="662.3" x2="731.2" y2="671.5" stroke-width="4.6"/>
<line x1="819.2" y1="662.3" x2="819.2" y2="667.5" stroke-width="4.6"/>
<line x1="907.1" y1="662.3" x2="907.1" y2="671.5" stroke-width="4.6"/>
<line x1="995.0" y1="662.3" x2="995.0" y2="667.5" stroke-width="4.6"/>
<line x1="1083.0" y1="662.3" x2="1083.0" y2="671.5" stroke-width="4.6"/>
<line x1="1170.9" y1="662.3" x2="1170.9" y2="667.5" stroke-width="4.6"/>
<line x1="1258.8" y1="662.3" x2="1258.8" y2="671.5" stroke-width="4.6"/>
</g>
<g clip-path="url(#ic)" fill="#0000ff">
<rect x="1215.5" y="246.8" width="3.8" height="417.1"/>
<circle cx="1217.4" cy="246.8" r="1.9"/>
<rect x="1080.8" y="228.1" width="3.8" height="435.8"/>
<circle cx="1082.7" cy="228.1" r="1.9"/>
<rect x="948.0" y="226.1" width="3.8" height="437.8"/>
<circle cx="949.9" cy="226.1" r="1.9"/>
<rect x="816.9" y="238.9" width="3.8" height="425.0"/>
<circle cx="818.8" cy="238.9" r="1.9"/>
<rect x="687.6" y="263.9" width="3.8" height="400.0"/>
<circle cx="689.5" cy="263.9" r="1.9"/>
<rect x="560.0" y="298.0" width="3.8" height="365.9"/>
<circle cx="561.9" cy="298.0" r="1.9"/>
</g>
<g fill="none" stroke="#0000ff" stroke-width="1">
<rect x="586.8" y="661.3" width="3" height="2"/>
<rect x="592.1" y="661.3" width="3" height="2"/>
<rect x="644.5" y="661.3" width="3" height="2"/>
<rect x="707.6" y="661.3" width="3" height="2"/>
<rect x="743.7" y="661.3" width="3" height="2"/>
<rect x="758.6" y="661.3" width="3" height="2"/>
<rect x="764.6" y="661.3" width="3" height="2"/>
<rect x="769.3" y="661.3" width="3" height="2"/>
<rect x="791.7" y="661.3" width="3" height="2"/>
<rect x="825.0" y="661.3" width="3" height="2"/>
<rect x="845.9" y="661.3" width="3" height="2"/>
<rect x="851.4" y="661.3" width="3" height="2"/>
<rect x="872.1" y="661.3" width="3" height="2"/>
<rect x="874.9" y="661.3" width="3" height="2"/>
<rect x="891.5" y="661.3" width="3" height="2"/>
<rect x="896.6" y="661.3" width="3" height="2"/>
<rect x="939.4" y="661.3" width="3" height="2"/>
<rect x="944.1" y="661.3" width="3" height="2"/>
<rect x="976.0" y="661.3" width="3" height="2"/>
<rect x="983.4" y="661.3" width="3" height="2"/>
<rect x="992.4" y="661.3" width="3" height="2"/>
<rect x="1002.3" y="661.3" width="3" height="2"/>
<rect x="1029.0" y="661.3" width="3" height="2"/>
<rect x="1053.4" y="661.3" width="3" height="2"/>
<rect x="1064.4" y="661.3" width="3" height="2"/>
<rect x="1076.2" y="661.3" width="3" height="2"/>
<rect x="1110.7" y="661.3" width="3" height="2"/>
<rect x="1120.2" y="661.3" width="3" height="2"/>
<rect x="1159.5" y="661.3" width="3" height="2"/>
<rect x="1171.2" y="661.3" width="3" height="2"/>
<rect x="1186.2" y="661.3" width="3" height="2"/>
<rect x="1189.3" y="661.3" width="3" height="2"/>
<rect x="1213.7" y="661.3" width="3" height="2"/>
<rect x="1220.0" y="661.3" width="3" height="2"/>
<rect x="1232.5" y="661.3" width="3" height="2"/>
</g>
<g stroke="#000" stroke-width="0.15" stroke-linejoin="round">
<text transform="translate(448.0,575.8) scale(1.045,1)" font-size="28.3">1x10<tspan font-size="17.0" dy="-14" dx="0.2">-19</tspan></text>
<text transform="translate(448.0,478.1) scale(1.045,1)" font-size="28.3">2x10<tspan font-size="17.0" dy="-14" dx="0.2">-19</tspan></text>
<text transform="translate(448.0,380.4) scale(1.045,1)" font-size="28.3">3x10<tspan font-size="17.0" dy="-14" dx="0.2">-19</tspan></text>
<text transform="translate(448.0,282.7) scale(1.045,1)" font-size="28.3">4x10<tspan font-size="17.0" dy="-14" dx="0.2">-19</tspan></text>
<text transform="translate(448.0,185.0) scale(1.045,1)" font-size="28.3">5x10<tspan font-size="17.0" dy="-14" dx="0.2">-19</tspan></text>
<text transform="translate(521.8,671.2) scale(1.045,1)" font-size="28.3">0</text>
<text transform="translate(554.9,701) scale(1.066,1)" font-size="27.8" text-anchor="middle">4580</text>
<text transform="translate(730.8,701) scale(1.066,1)" font-size="27.8" text-anchor="middle">4590</text>
<text transform="translate(906.6,701) scale(1.066,1)" font-size="27.8" text-anchor="middle">4600</text>
<text transform="translate(1082.5,701) scale(1.066,1)" font-size="27.8" text-anchor="middle">4610</text>
<text transform="translate(1258.3,701) scale(1.066,1)" font-size="27.8" text-anchor="middle">4620</text>
<text transform="translate(788.3,749.7) scale(1.113,1)" font-size="26.8">Wavelength (nm)</text>
<text transform="translate(426,657) rotate(-90) scale(1.008,1)" font-size="27.4">Absorbance(cm<tspan font-size="17" dy="-15.3">-1</tspan><tspan dy="15.3">(molecule·cm</tspan><tspan font-size="17" dy="-15.3">-2</tspan><tspan dy="15.3">))</tspan></text>
<text transform="translate(818.8,212) scale(1.068,1)" font-size="26">4594.99 nm</text>
</g>
<line x1="819.3" y1="285.2" x2="864" y2="224.5" stroke="#000" stroke-width="2.5"/>
<polygon points="870.5,215.6 866.5,229.5 858.2,223.4" fill="#000"/>
<ellipse cx="1660.7" cy="189" rx="62.9" ry="52" fill="none" stroke="#000" stroke-width="6.4"/>
<line x1="1596" y1="195.3" x2="1300" y2="300.9" stroke="#000" stroke-width="5.4"/>
<polygon points="1274.9,309.8 1302.6,292.2 1308.4,308.4" fill="#000"/>
</svg></body></html>
